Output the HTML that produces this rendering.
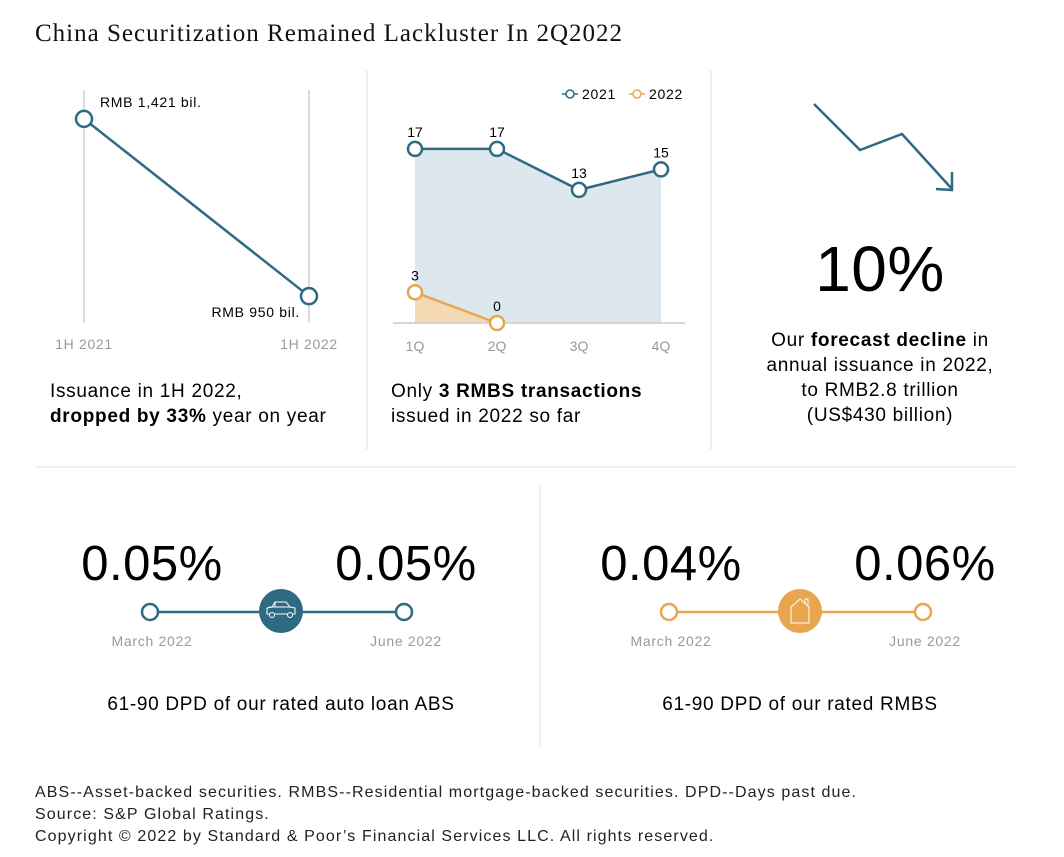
<!DOCTYPE html>
<html><head><meta charset="utf-8"><style>
body{margin:0;background:#fff;width:1064px;height:852px;overflow:hidden;font-family:"Liberation Sans",sans-serif;color:#222}
svg text{font-family:"Liberation Sans",sans-serif}
.cap{letter-spacing:0.7px}
.sm{letter-spacing:0.7px}
.big{letter-spacing:0.5px}
</style></head><body>
<svg id="s" width="1064" height="852" viewBox="0 0 1064 852">
<text x="35" y="41" font-size="25" fill="#111" style="font-family:'Liberation Serif',serif;letter-spacing:1px">China Securitization Remained Lackluster In 2Q2022</text>
<line x1="367" y1="70" x2="367" y2="450" stroke="#e3e3e3"/>
<line x1="711" y1="70" x2="711" y2="450" stroke="#e3e3e3"/>
<line x1="35" y1="467" x2="1016" y2="467" stroke="#e3e3e3"/>
<line x1="540" y1="485" x2="540" y2="748" stroke="#e3e3e3"/>
<g id="c1"></g>
<g id="c2"></g>
<text class="cap" x="50" y="397" font-size="19">Issuance in 1H 2022,</text>
<text class="cap" x="50" y="422" font-size="19"><tspan font-weight="bold">dropped by 33%</tspan> year on year</text>
<text class="cap" x="391" y="397" font-size="19">Only <tspan font-weight="bold">3 RMBS transactions</tspan></text>
<text class="cap" x="391" y="422" font-size="19">issued in 2022 so far</text>
<polyline points="814,104 860,150 902,134 952,189" fill="none" stroke="#2e6b83" stroke-width="2.5"/>
<polyline points="936,189 952,190 952,172" fill="none" stroke="#2e6b83" stroke-width="2.5"/>
<text class="big" x="880" y="291" font-size="64" text-anchor="middle">10%</text>
<g class="cap" font-size="19" text-anchor="middle">
<text x="880" y="346">Our <tspan font-weight="bold">forecast decline</tspan> in</text>
<text x="880" y="371">annual issuance in 2022,</text>
<text x="880" y="396">to RMB2.8 trillion</text>
<text x="880" y="421">(US$430 billion)</text></g>
<g>
<text class="big" x="152" y="580" font-size="49" text-anchor="middle">0.05%</text>
<text class="big" x="406" y="580" font-size="49" text-anchor="middle">0.05%</text>
<line x1="150" y1="612" x2="404" y2="612" stroke="#2e6b83" stroke-width="2.5"/>
<circle cx="150" cy="612" r="8" fill="#fff" stroke="#2e6b83" stroke-width="2.5"/>
<circle cx="404" cy="612" r="8" fill="#fff" stroke="#2e6b83" stroke-width="2.5"/>
<circle cx="281" cy="611" r="22" fill="#2e6b83"/>
<path d="M267 614 h28 v-6 l-5 -1 l-4 -5 h-11 l-3 5 l-5 1 z M275 602 v5 M269 607 h21" fill="none" stroke="#fff" stroke-width="1"/>
<circle cx="272" cy="615" r="2.5" fill="#2e6b83" stroke="#fff"/><circle cx="290" cy="615" r="2.5" fill="#2e6b83" stroke="#fff"/>
<text class="sm" x="152" y="646" font-size="14" fill="#999" text-anchor="middle">March 2022</text>
<text class="sm" x="406" y="646" font-size="14" fill="#999" text-anchor="middle">June 2022</text>
<text class="cap" x="281" y="710" font-size="19" text-anchor="middle">61-90 DPD of our rated auto loan ABS</text></g>
<g>
<text class="big" x="671" y="580" font-size="49" text-anchor="middle">0.04%</text>
<text class="big" x="925" y="580" font-size="49" text-anchor="middle">0.06%</text>
<line x1="669" y1="612" x2="923" y2="612" stroke="#e8a650" stroke-width="2.5"/>
<circle cx="669" cy="612" r="8" fill="#fff" stroke="#e8a650" stroke-width="2.5"/>
<circle cx="923" cy="612" r="8" fill="#fff" stroke="#e8a650" stroke-width="2.5"/>
<circle cx="800" cy="611" r="22" fill="#e8a650"/>
<path d="M791 623 v-16 l9 -8 l9 8 v16 z M805 603 v-4 h3 v6" fill="none" stroke="#fff" stroke-width="1"/>
<text class="sm" x="671" y="646" font-size="14" fill="#999" text-anchor="middle">March 2022</text>
<text class="sm" x="925" y="646" font-size="14" fill="#999" text-anchor="middle">June 2022</text>
<text class="cap" x="800" y="710" font-size="19" text-anchor="middle">61-90 DPD of our rated RMBS</text></g>
<g font-size="16" fill="#222" style="letter-spacing:1.1px">
<text x="35" y="797">ABS--Asset-backed securities. RMBS--Residential mortgage-backed securities. DPD--Days past due.</text>
<text x="35" y="819">Source: S&amp;P Global Ratings.</text>
<text x="35" y="841">Copyright © 2022 by Standard &amp; Poor’s Financial Services LLC. All rights reserved.</text></g>
</svg>
<script>
const NS="http://www.w3.org/2000/svg";
const halfLabels=["1H 2021","1H 2022"];
const halfValues=[1421,950];
const halfText=["RMB 1,421 bil.","RMB 950 bil."];
const quarters=["1Q","2Q","3Q","4Q"];
const s2021=[17,17,13,15];
const s2022=[3,0];
function mk(p,t,a){const e=document.createElementNS(NS,t);for(const k in a)e.setAttribute(k,a[k]);p.appendChild(e);return e;}
const c1=document.getElementById('c1');
const x1=i=>84+i*225, y1=v=>315-(v-900)*0.3764;
halfLabels.forEach((l,i)=>{
 const g=mk(c1,'line',{x1:x1(i),x2:x1(i),y1:90,y2:323,stroke:'#ddd','stroke-width':2});
 
 
 const t=mk(c1,'text',{x:x1(i),y:349,'font-size':14,fill:'#999','text-anchor':'middle',class:'sm'});t.textContent=l;
 
 
});
const ln=mk(c1,'line',{x1:x1(0),y1:y1(halfValues[0]),x2:x1(1),y2:y1(halfValues[1]),stroke:'#2e6b83','stroke-width':2.5});


halfValues.forEach((v,i)=>{
 const c=mk(c1,'circle',{cx:x1(i),cy:y1(v),r:8,fill:'#fff',stroke:'#2e6b83','stroke-width':2.5});
 
 
 const t=mk(c1,'text',{x:i==0?x1(i)+16:x1(i)-9,y:i==0?y1(v)-12:y1(v)+21,'font-size':14,'text-anchor':i==0?'start':'end',class:'sm'});t.textContent=halfText[i];
 
 
});
const c2=document.getElementById('c2');
const x2=i=>415+i*82, y2=v=>323-v*10.24;
let p=s2021.map((v,i)=>x2(i)+','+y2(v)).join(' ');
const a1=mk(c2,'polygon',{points:x2(0)+','+y2(0)+' '+p+' '+x2(s2021.length-1)+','+y2(0),fill:'#dce8ee'});


let p2=s2022.map((v,i)=>x2(i)+','+y2(v)).join(' ');
const a2=mk(c2,'polygon',{points:x2(0)+','+y2(0)+' '+p2+' '+x2(s2022.length-1)+','+y2(0),fill:'#f5d9b3'});


const ax=mk(c2,'line',{x1:393,x2:685,y1:323,y2:323,stroke:'#ccc','stroke-width':1.5});


quarters.forEach((q,i)=>{const t=mk(c2,'text',{x:x2(i),y:351,'font-size':14,fill:'#999','text-anchor':'middle'});t.textContent=q;
 
 });
[[s2021,'#2e6b83','2021'],[s2022,'#e8a650','2022']].forEach(([d,col,n])=>{
 const l=mk(c2,'polyline',{points:d.map((v,i)=>x2(i)+','+y2(v)).join(' '),fill:'none',stroke:col,'stroke-width':2.5});
 
 
 d.forEach((v,i)=>{const c=mk(c2,'circle',{cx:x2(i),cy:y2(v),r:7,fill:'#fff',stroke:col,'stroke-width':2.5});
  
  
  const t=mk(c2,'text',{x:x2(i),y:y2(v)-12,'font-size':14,'text-anchor':'middle'});t.textContent=v;
  
  });
});
[[562,'#2e6b83','2021'],[629,'#e8a650','2022']].forEach(([x,col,n])=>{
 const g=mk(c2,'g',{});
 
 
 mk(g,'line',{x1:x,x2:x+16,y1:94,y2:94,stroke:col,'stroke-width':1.5});
 mk(g,'circle',{cx:x+8,cy:94,r:4,fill:'#fff',stroke:col,'stroke-width':1.5});
 const t=mk(g,'text',{x:x+20,y:99,'font-size':14,class:'sm'});t.textContent=n;
});
</script>
</body></html>
